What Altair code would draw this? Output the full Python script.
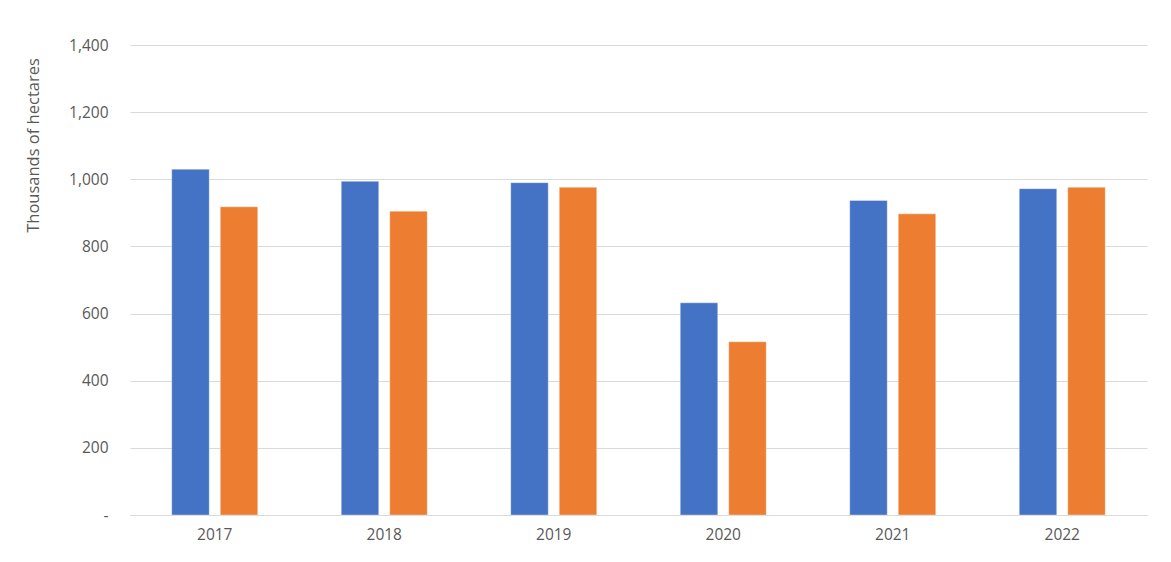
import altair as alt
import pandas as pd

years = ["2017", "2018", "2019", "2020", "2021", "2022"]
series_a = [1030, 994, 990, 632, 937, 972]
series_b = [918, 905, 976, 516, 897, 976]
series_names = ["Series A", "Series B"]
colors = ["#4472C4", "#ED7D31"]

rows = []
for y, a, b in zip(years, series_a, series_b):
    rows.append({"year": y, "series": series_names[0], "value": a})
    rows.append({"year": y, "series": series_names[1], "value": b})
df = pd.DataFrame(rows)

font = "Open Sans"
chart = alt.Chart(df).mark_bar(stroke="#ffffff", strokeWidth=0.6, strokeOpacity=0.6).encode(
    x=alt.X("year:N", sort=years, title=None,
            scale=alt.Scale(paddingInner=0.4926, paddingOuter=0.2463),
            axis=alt.Axis(labelAngle=0, ticks=False, domainColor="#d9d9d9", domainWidth=1,
                          labelColor="#595959", labelFontSize=15.5, labelFont=font, labelPadding=12,
                          grid=False)),
    xOffset=alt.XOffset("series:N", sort=series_names,
                        scale=alt.Scale(paddingInner=0.227, paddingOuter=0)),
    y=alt.Y("value:Q", title="Thousands of hectares",
            scale=alt.Scale(domain=[0, 1400], nice=False),
            axis=alt.Axis(values=[0, 200, 400, 600, 800, 1000, 1200, 1400],
                          labelExpr="datum.value == 0 ? '-' : format(datum.value, ',')",
                          ticks=False, domain=False, gridColor="#d9d9d9", gridWidth=1,
                          labelColor="#595959", labelFontSize=15.5, labelFont=font, labelPadding=22,
                          titleColor="#595959", titleFontSize=16.5, titleFont=font,
                          titleFontWeight="normal", titleAngle=-90, titleX=-97, titleY=100,
                          titleAlign="center", titleBaseline="middle")),
    color=alt.Color("series:N", sort=series_names,
                    scale=alt.Scale(domain=series_names, range=colors), legend=None),
).properties(
    width=1017, height=470,
    background="#ffffff",
    autosize=alt.AutoSizeParams(type="none"),
    padding={"left": 130, "top": 45, "right": 24, "bottom": 47},
).configure_view(stroke=None, strokeWidth=0)

chart.save("out.html", embed_options={"renderer": "svg", "actions": False})
